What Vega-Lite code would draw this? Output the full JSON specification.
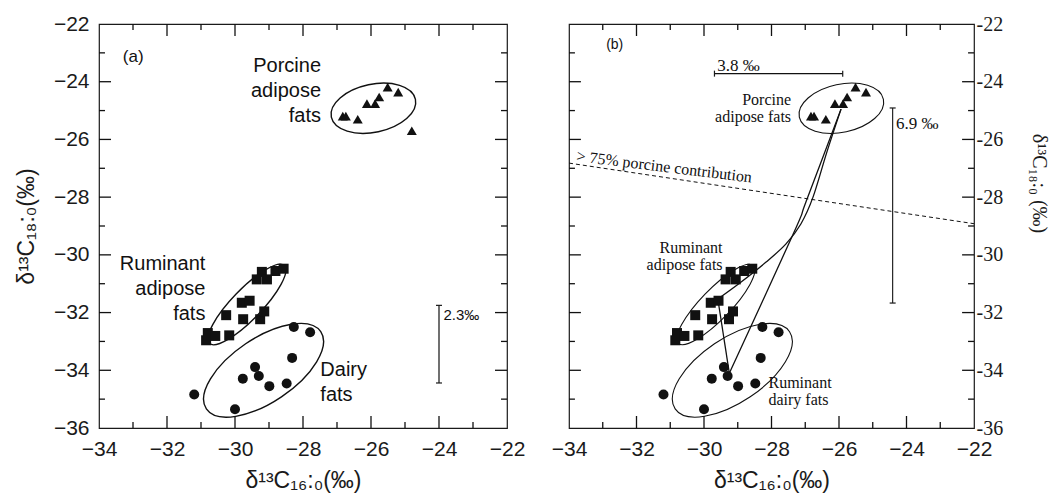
{
  "$schema": "https://vega.github.io/schema/vega-lite/v6.json",
  "background": "white",
  "padding": {"left": 14, "top": 12, "right": 0, "bottom": 0},
  "bounds": "flush",
  "spacing": 62,
  "config": {
    "font": "Liberation Sans",
    "view": {"stroke": "#1a1a1a", "strokeWidth": 1.2},
    "axis": {"domain": false, "grid": false, "ticks": false, "labelColor": "#1a1a1a", "titleColor": "#1a1a1a", "titleFontWeight": "normal", "labelOverlap": false, "labelFlush": false, "labelBound": false},
    "tick": {"color": "#1a1a1a", "thickness": 1.2, "opacity": 1}
  },
  "datasets": {
    "pts": [
      {"x": -26.83, "y": -25.19, "g": "porcine", "b": true},
      {"x": -26.74, "y": -25.19, "g": "porcine", "b": true},
      {"x": -26.39, "y": -25.30, "g": "porcine", "b": true},
      {"x": -26.12, "y": -24.76, "g": "porcine", "b": true},
      {"x": -25.88, "y": -24.76, "g": "porcine", "b": true},
      {"x": -25.76, "y": -24.53, "g": "porcine", "b": true},
      {"x": -25.51, "y": -24.19, "g": "porcine", "b": true},
      {"x": -25.20, "y": -24.36, "g": "porcine", "b": true},
      {"x": -24.80, "y": -25.70, "g": "porcine", "b": false},
      {"x": -30.85, "y": -32.96, "g": "ruminant", "b": true},
      {"x": -30.80, "y": -32.71, "g": "ruminant", "b": true},
      {"x": -30.58, "y": -32.81, "g": "ruminant", "b": true},
      {"x": -30.17, "y": -32.79, "g": "ruminant", "b": true},
      {"x": -30.26, "y": -32.09, "g": "ruminant", "b": true},
      {"x": -29.76, "y": -32.23, "g": "ruminant", "b": true},
      {"x": -29.26, "y": -32.23, "g": "ruminant", "b": true},
      {"x": -29.14, "y": -31.96, "g": "ruminant", "b": true},
      {"x": -29.80, "y": -31.66, "g": "ruminant", "b": true},
      {"x": -29.57, "y": -31.59, "g": "ruminant", "b": true},
      {"x": -29.36, "y": -30.85, "g": "ruminant", "b": true},
      {"x": -29.21, "y": -30.59, "g": "ruminant", "b": true},
      {"x": -29.06, "y": -30.85, "g": "ruminant", "b": true},
      {"x": -28.81, "y": -30.56, "g": "ruminant", "b": true},
      {"x": -28.57, "y": -30.48, "g": "ruminant", "b": true},
      {"x": -31.20, "y": -34.84, "g": "dairy", "b": true},
      {"x": -30.00, "y": -35.35, "g": "dairy", "b": true},
      {"x": -29.77, "y": -34.29, "g": "dairy", "b": true},
      {"x": -29.41, "y": -33.89, "g": "dairy", "b": true},
      {"x": -29.30, "y": -34.20, "g": "dairy", "b": true},
      {"x": -28.99, "y": -34.55, "g": "dairy", "b": true},
      {"x": -28.48, "y": -34.46, "g": "dairy", "b": true},
      {"x": -28.32, "y": -33.57, "g": "dairy", "b": true},
      {"x": -28.27, "y": -32.50, "g": "dairy", "b": true},
      {"x": -27.79, "y": -32.68, "g": "dairy", "b": true}
    ],
    "ell": [
      {"x": -25.93, "y": -24.92, "e": "porcine"},
      {"x": -29.65, "y": -31.72, "e": "ruminant"},
      {"x": -29.16, "y": -34.0, "e": "dairy"}
    ],
    "lines": [
      {"ln": "s", "i": 0, "x": -25.94, "y": -24.95},
      {"ln": "s", "i": 1, "x": -26.36, "y": -26.44},
      {"ln": "s", "i": 2, "x": -26.77, "y": -28.00},
      {"ln": "s", "i": 3, "x": -27.13, "y": -28.93},
      {"ln": "s", "i": 4, "x": -27.57, "y": -29.62},
      {"ln": "s", "i": 5, "x": -28.16, "y": -30.25},
      {"ln": "s", "i": 6, "x": -28.90, "y": -30.94},
      {"ln": "s", "i": 7, "x": -29.59, "y": -31.53},
      {"ln": "c", "i": 0, "x": -25.94, "y": -24.95},
      {"ln": "c", "i": 1, "x": -26.98, "y": -28.17},
      {"ln": "c", "i": 2, "x": -27.33, "y": -29.21},
      {"ln": "c", "i": 3, "x": -29.25, "y": -34.10},
      {"ln": "sc", "i": 0, "x": -29.59, "y": -31.53},
      {"ln": "sc", "i": 1, "x": -29.25, "y": -34.10}
    ],
    "tk": [
      {"x": -33, "x2": -33, "y": -36, "y2": -35.792}, {"x": -32, "x2": -32, "y": -36, "y2": -35.584},
      {"x": -31, "x2": -31, "y": -36, "y2": -35.792}, {"x": -30, "x2": -30, "y": -36, "y2": -35.584},
      {"x": -29, "x2": -29, "y": -36, "y2": -35.792}, {"x": -28, "x2": -28, "y": -36, "y2": -35.584},
      {"x": -27, "x2": -27, "y": -36, "y2": -35.792}, {"x": -26, "x2": -26, "y": -36, "y2": -35.584},
      {"x": -25, "x2": -25, "y": -36, "y2": -35.792}, {"x": -24, "x2": -24, "y": -36, "y2": -35.584},
      {"x": -23, "x2": -23, "y": -36, "y2": -35.792},
      {"x": -33, "x2": -33, "y": -22, "y2": -22.208}, {"x": -32, "x2": -32, "y": -22, "y2": -22.416},
      {"x": -31, "x2": -31, "y": -22, "y2": -22.208}, {"x": -30, "x2": -30, "y": -22, "y2": -22.416},
      {"x": -29, "x2": -29, "y": -22, "y2": -22.208}, {"x": -28, "x2": -28, "y": -22, "y2": -22.416},
      {"x": -27, "x2": -27, "y": -22, "y2": -22.208}, {"x": -26, "x2": -26, "y": -22, "y2": -22.416},
      {"x": -25, "x2": -25, "y": -22, "y2": -22.208}, {"x": -24, "x2": -24, "y": -22, "y2": -22.416},
      {"x": -23, "x2": -23, "y": -22, "y2": -22.208},
      {"x": -34, "x2": -33.824, "y": -35, "y2": -35}, {"x": -34, "x2": -33.647, "y": -34, "y2": -34},
      {"x": -34, "x2": -33.824, "y": -33, "y2": -33}, {"x": -34, "x2": -33.647, "y": -32, "y2": -32},
      {"x": -34, "x2": -33.824, "y": -31, "y2": -31}, {"x": -34, "x2": -33.647, "y": -30, "y2": -30},
      {"x": -34, "x2": -33.824, "y": -29, "y2": -29}, {"x": -34, "x2": -33.647, "y": -28, "y2": -28},
      {"x": -34, "x2": -33.824, "y": -27, "y2": -27}, {"x": -34, "x2": -33.647, "y": -26, "y2": -26},
      {"x": -34, "x2": -33.824, "y": -25, "y2": -25}, {"x": -34, "x2": -33.647, "y": -24, "y2": -24},
      {"x": -34, "x2": -33.824, "y": -23, "y2": -23},
      {"x": -22, "x2": -22.176, "y": -35, "y2": -35}, {"x": -22, "x2": -22.353, "y": -34, "y2": -34},
      {"x": -22, "x2": -22.176, "y": -33, "y2": -33}, {"x": -22, "x2": -22.353, "y": -32, "y2": -32},
      {"x": -22, "x2": -22.176, "y": -31, "y2": -31}, {"x": -22, "x2": -22.353, "y": -30, "y2": -30},
      {"x": -22, "x2": -22.176, "y": -29, "y2": -29}, {"x": -22, "x2": -22.353, "y": -28, "y2": -28},
      {"x": -22, "x2": -22.176, "y": -27, "y2": -27}, {"x": -22, "x2": -22.353, "y": -26, "y2": -26},
      {"x": -22, "x2": -22.176, "y": -25, "y2": -25}, {"x": -22, "x2": -22.353, "y": -24, "y2": -24},
      {"x": -22, "x2": -22.176, "y": -23, "y2": -23}
    ]
  },
  "hconcat": [
    {
      "width": 408,
      "height": 404,
      "encoding": {
        "x": {"field": "x", "type": "quantitative", "scale": {"domain": [-34, -22]},
          "axis": {"orient": "bottom", "values": [-34, -32, -30, -28, -26, -24, -22], "labelPadding": 10,
            "labelFont": "Liberation Sans Narrow, Arial Narrow, Liberation Sans", "labelFontSize": 21,
            "title": "δ¹³C₁₆:₀(‰)", "titleFont": "Liberation Sans Narrow, Arial Narrow, Liberation Sans", "titleFontSize": 23,
            "titleX": 204, "titleY": 52, "titleAlign": "center", "titleBaseline": "middle"}},
        "y": {"field": "y", "type": "quantitative", "scale": {"domain": [-36, -22]},
          "axis": {"orient": "left", "values": [-36, -34, -32, -30, -28, -26, -24, -22], "labelPadding": 10,
            "labelFont": "Liberation Sans Narrow, Arial Narrow, Liberation Sans", "labelFontSize": 21,
            "title": "δ¹³C₁₈:₀(‰)", "titleFont": "Liberation Sans Narrow, Arial Narrow, Liberation Sans", "titleFontSize": 23,
            "titleX": -73, "titleY": 202, "titleAngle": -90, "titleAlign": "center", "titleBaseline": "middle"}}
      },
      "layer": [
        {
          "data": {"name": "tk"},
          "mark": {"type": "rule", "color": "#111", "strokeWidth": 1.3},
          "encoding": {"x2": {"field": "x2"}, "y2": {"field": "y2"}}
        },
        {
          "data": {"name": "ell"},
          "mark": {"type": "point", "filled": false, "size": 4, "color": "#111", "strokeWidth": 1.4, "opacity": 1},
          "encoding": {
            "shape": {"field": "e", "type": "nominal", "legend": null, "scale": {"domain": ["porcine", "ruminant", "dairy"], "range": [
              "M42.06,-8.94C44.82,4.02 28.22,18.53 4.99,23.47C-18.24,28.41 -39.3,21.9 -42.06,8.94C-44.82,-4.02 -28.22,-18.53 -4.99,-23.47C18.24,-28.41 39.3,-21.9 42.06,-8.94Z",
              "M37.51,-38.84C43.47,-33.09 31.51,-11.03 10.79,10.42C-9.93,31.87 -31.55,44.6 -37.51,38.84C-43.47,33.09 -31.51,11.03 -10.79,-10.42C9.93,-31.87 31.55,-44.6 37.51,-38.84Z",
              "M57.2,-38.58C67.08,-23.93 49.48,5.22 17.89,26.53C-13.7,47.84 -47.32,53.23 -57.2,38.58C-67.08,23.93 -49.48,-5.22 -17.89,-26.53C13.7,-47.84 47.32,-53.23 57.2,-38.58Z"
            ]}}
          }
        },
        {
          "data": {"name": "pts"},
          "mark": {"type": "point", "filled": true, "size": 100, "color": "#111", "opacity": 1},
          "encoding": {
            "shape": {"field": "g", "type": "nominal", "scale": {"domain": ["porcine", "ruminant", "dairy"], "range": ["triangle-up", "square", "circle"]}, "legend": null}
          }
        },
        {
          "data": {"values": [
            {"x": -27.47, "y": -23.66, "t": "Porcine\nadipose\nfats"},
            {"x": -30.87, "y": -30.54, "t": "Ruminant\nadipose\nfats"}
          ]},
          "mark": {"type": "text", "align": "right", "baseline": "alphabetic", "fontSize": 20, "lineHeight": 25, "lineBreak": "\n", "color": "#111"},
          "encoding": {"text": {"field": "t"}}
        },
        {
          "data": {"values": [{"x": -27.49, "y": -34.21, "t": "Dairy\nfats"}]},
          "mark": {"type": "text", "align": "left", "baseline": "alphabetic", "fontSize": 20, "lineHeight": 25, "lineBreak": "\n", "color": "#111"},
          "encoding": {"text": {"field": "t"}}
        },
        {
          "data": {"values": [{"x": -33.30, "y": -23.30, "t": "(a)"}]},
          "mark": {"type": "text", "align": "left", "baseline": "alphabetic", "fontSize": 17, "color": "#111"},
          "encoding": {"text": {"field": "t"}}
        },
        {
          "data": {"values": [{"x": -23.87, "y": -32.08, "t": "2.3‰"}]},
          "mark": {"type": "text", "align": "left", "baseline": "middle", "fontSize": 15, "color": "#111"},
          "encoding": {"text": {"field": "t"}}
        },
        {
          "data": {"values": [{"x": -24.0, "y": -31.75, "y2": -34.44}]},
          "mark": {"type": "rule", "color": "#111", "strokeWidth": 1.2},
          "encoding": {"y2": {"field": "y2"}}
        },
        {
          "data": {"values": [{"x": -24.0, "y": -31.75}, {"x": -24.0, "y": -34.44}]},
          "mark": {"type": "tick", "orient": "horizontal", "size": 6},
          "encoding": {}
        }
      ],
      "resolve": {"scale": {"shape": "independent"}}
    },
    {
      "width": 405,
      "height": 404,
      "encoding": {
        "x": {"field": "x", "type": "quantitative", "scale": {"domain": [-34, -22]},
          "axis": {"orient": "bottom", "values": [-34, -32, -30, -28, -26, -24, -22], "labelPadding": 10,
            "labelFont": "Liberation Sans Narrow, Arial Narrow, Liberation Sans", "labelFontSize": 21,
            "title": "δ¹³C₁₆:₀(‰)", "titleFont": "Liberation Sans Narrow, Arial Narrow, Liberation Sans", "titleFontSize": 23,
            "titleX": 202.5, "titleY": 52, "titleAlign": "center", "titleBaseline": "middle"}},
        "y": {"field": "y", "type": "quantitative", "scale": {"domain": [-36, -22]},
          "axis": {"orient": "right", "values": [-36, -34, -32, -30, -28, -26, -24, -22],
            "labelExpr": "'' + datum.value", "labelPadding": 2, "labelAlign": "left",
            "labelFont": "Liberation Serif", "labelFontSize": 20,
            "title": "δ¹³C₁₈:₀ (‰)", "titleFont": "Liberation Serif", "titleFontSize": 20,
            "titleX": 64, "titleY": 159, "titleAngle": 90, "titleAlign": "center", "titleBaseline": "middle"}}
      },
      "layer": [
        {
          "data": {"name": "tk"},
          "mark": {"type": "rule", "color": "#111", "strokeWidth": 1.3},
          "encoding": {"x2": {"field": "x2"}, "y2": {"field": "y2"}}
        },
        {
          "data": {"values": [{"x": -34, "y": -26.82}, {"x": -22, "y": -28.92}]},
          "mark": {"type": "line", "color": "#111", "strokeWidth": 1, "strokeDash": [4, 3]},
          "encoding": {}
        },
        {
          "data": {"name": "lines"},
          "mark": {"type": "line", "color": "#111", "strokeWidth": 1.3, "interpolate": "cardinal"},
          "encoding": {"detail": {"field": "ln"}, "order": {"field": "i"}}
        },
        {
          "data": {"name": "ell"},
          "mark": {"type": "point", "filled": false, "size": 4, "color": "#111", "strokeWidth": 1.1, "opacity": 1},
          "encoding": {
            "shape": {"field": "e", "type": "nominal", "legend": null, "scale": {"domain": ["porcine", "ruminant", "dairy"], "range": [
              "M42.06,-8.94C44.82,4.02 28.22,18.53 4.99,23.47C-18.24,28.41 -39.3,21.9 -42.06,8.94C-44.82,-4.02 -28.22,-18.53 -4.99,-23.47C18.24,-28.41 39.3,-21.9 42.06,-8.94Z",
              "M37.51,-38.84C43.47,-33.09 31.51,-11.03 10.79,10.42C-9.93,31.87 -31.55,44.6 -37.51,38.84C-43.47,33.09 -31.51,11.03 -10.79,-10.42C9.93,-31.87 31.55,-44.6 37.51,-38.84Z",
              "M57.2,-38.58C67.08,-23.93 49.48,5.22 17.89,26.53C-13.7,47.84 -47.32,53.23 -57.2,38.58C-67.08,23.93 -49.48,-5.22 -17.89,-26.53C13.7,-47.84 47.32,-53.23 57.2,-38.58Z"
            ]}}
          }
        },
        {
          "data": {"name": "pts"},
          "transform": [{"filter": "datum.b"}],
          "mark": {"type": "point", "filled": true, "size": 100, "color": "#111", "opacity": 1},
          "encoding": {
            "shape": {"field": "g", "type": "nominal", "scale": {"domain": ["porcine", "ruminant", "dairy"], "range": ["triangle-up", "square", "circle"]}, "legend": null}
          }
        },
        {
          "data": {"values": [
            {"x": -27.42, "y": -24.80, "t": "Porcine\nadipose fats"},
            {"x": -29.45, "y": -29.93, "t": "Ruminant\nadipose fats"}
          ]},
          "mark": {"type": "text", "align": "right", "baseline": "alphabetic", "font": "Liberation Serif", "fontSize": 16, "lineHeight": 17, "lineBreak": "\n", "color": "#111"},
          "encoding": {"text": {"field": "t"}}
        },
        {
          "data": {"values": [{"x": -28.09, "y": -34.62, "t": "Ruminant\ndairy fats"}]},
          "mark": {"type": "text", "align": "left", "baseline": "alphabetic", "font": "Liberation Serif", "fontSize": 16, "lineHeight": 17, "lineBreak": "\n", "color": "#111"},
          "encoding": {"text": {"field": "t"}}
        },
        {
          "data": {"values": [
            {"x": -29.61, "y": -23.63, "t": "3.8 ‰"},
            {"x": -24.31, "y": -25.63, "t": "6.9 ‰"}
          ]},
          "mark": {"type": "text", "align": "left", "baseline": "alphabetic", "font": "Liberation Serif", "fontSize": 17, "color": "#111"},
          "encoding": {"text": {"field": "t"}}
        },
        {
          "data": {"values": [{"x": -33.79, "y": -26.75, "t": "> 75% porcine contribution"}]},
          "mark": {"type": "text", "align": "left", "baseline": "alphabetic", "font": "Liberation Serif", "fontSize": 16, "angle": 7, "color": "#111"},
          "encoding": {"text": {"field": "t"}}
        },
        {
          "data": {"values": [{"x": -32.90, "y": -22.88, "t": "(b)"}]},
          "mark": {"type": "text", "align": "left", "baseline": "alphabetic", "fontSize": 14, "color": "#111"},
          "encoding": {"text": {"field": "t"}}
        },
        {
          "data": {"values": [{"x": -29.69, "x2": -25.89, "y": -23.72}]},
          "mark": {"type": "rule", "color": "#111", "strokeWidth": 1.1},
          "encoding": {"x2": {"field": "x2"}}
        },
        {
          "data": {"values": [{"x": -24.41, "y": -24.91, "y2": -31.67}]},
          "mark": {"type": "rule", "color": "#111", "strokeWidth": 1.1},
          "encoding": {"y2": {"field": "y2"}}
        },
        {
          "data": {"values": [{"x": -29.69, "y": -23.72}, {"x": -25.89, "y": -23.72}]},
          "mark": {"type": "tick", "orient": "vertical", "size": 6},
          "encoding": {}
        },
        {
          "data": {"values": [{"x": -24.41, "y": -24.91}, {"x": -24.41, "y": -31.67}]},
          "mark": {"type": "tick", "orient": "horizontal", "size": 6},
          "encoding": {}
        }
      ],
      "resolve": {"scale": {"shape": "independent"}}
    }
  ]
}
